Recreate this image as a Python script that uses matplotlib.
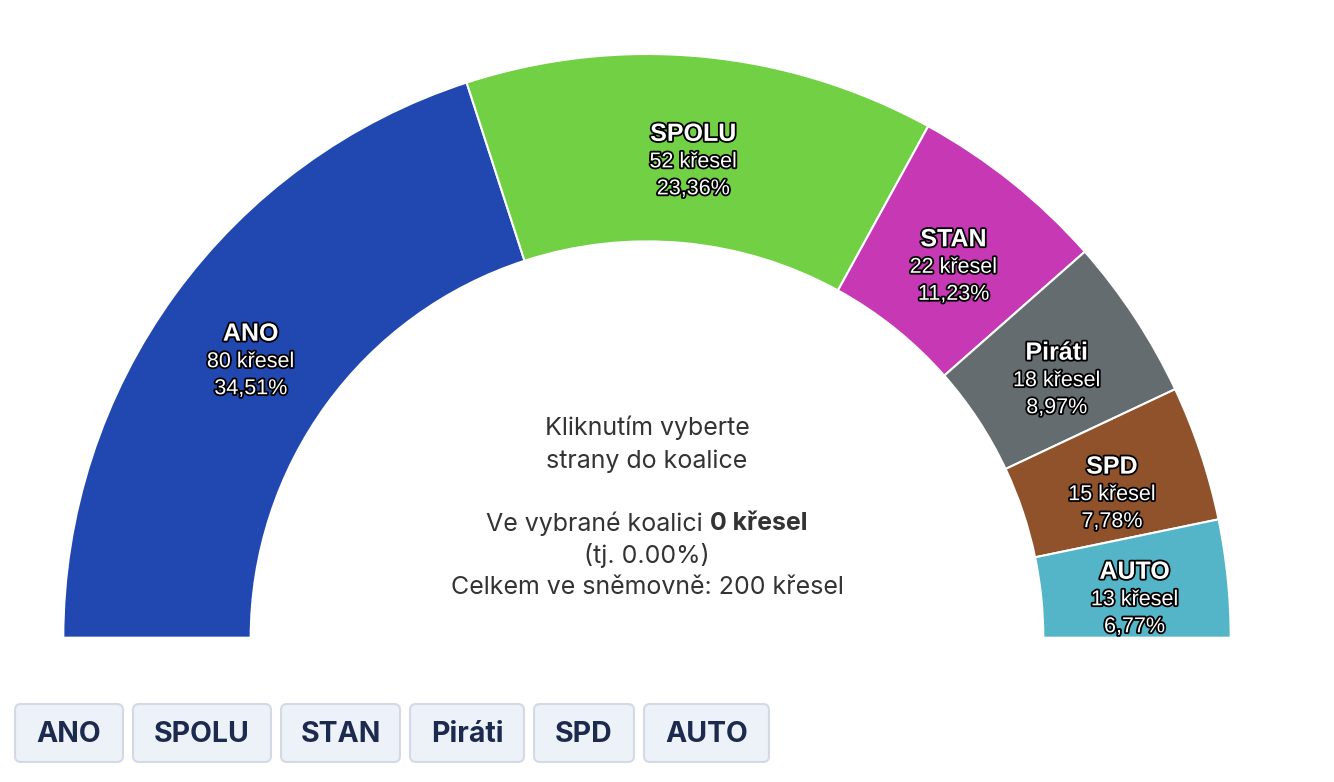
import math
import matplotlib.pyplot as plt
from matplotlib.patches import Wedge, FancyBboxPatch
import matplotlib.patheffects as pe

parties = ["ANO", "SPOLU", "STAN", "Piráti", "SPD", "AUTO"]
seats = [80, 52, 22, 18, 15, 13]
votes = ["34,51%", "23,36%", "11,23%", "8,97%", "7,78%", "6,77%"]
colors = ["#2148B0", "#71D044", "#C638B4", "#656C6F", "#8F522B", "#55B5C8"]
total = sum(seats)

W, H = 1334, 782
fig = plt.figure(figsize=(W / 100, H / 100), dpi=100)

# background axes in pixel coords (y down) for the buttons
bg = fig.add_axes([0, 0, 1, 1])
bg.set_xlim(0, W)
bg.set_ylim(H, 0)
bg.axis("off")

# chart axes: bottom edge is the flat side of the half-donut
cy = 637.7
ax = fig.add_axes([0, (H - cy) / H, 1, cy / H])
ax.set_xlim(0, W)
ax.set_ylim(0, cy)
ax.axis("off")

cx, r_out, r_in = 647, 583.7, 396.3
stroke = [pe.withStroke(linewidth=2.6, foreground="black")]

ang = 180.0
for name, s, v, c in zip(parties, seats, votes, colors):
    span = 180.0 * s / total
    a1, a0 = ang, ang - span
    ax.add_patch(Wedge((cx, 0), r_out, a0, a1, width=r_out - r_in,
                       facecolor=c, edgecolor="white", linewidth=1.5))
    mid = math.radians((a0 + a1) / 2)
    rm = (r_out + r_in) / 2
    lx = cx + rm * math.cos(mid)
    ly = rm * math.sin(mid) - 12
    ax.text(lx, ly + 28, name, ha="center", va="center", color="white",
            fontsize=18, fontweight="bold", family="Liberation Sans",
            path_effects=stroke, clip_on=True)
    ax.text(lx, ly, f"{s} křesel", ha="center", va="center", color="white",
            fontsize=15.5, family="Liberation Sans", path_effects=stroke, clip_on=True)
    ax.text(lx, ly - 27, v, ha="center", va="center", color="white",
            fontsize=15.5, family="Liberation Sans", path_effects=stroke, clip_on=True)
    ang = a0

# centre text
tc = "#333333"
fs = 18
bg.text(647, 428, "Kliknutím vyberte", ha="center", va="center",
        fontsize=fs, color=tc, family="Inter")
bg.text(647, 461, "strany do koalice", ha="center", va="center",
        fontsize=fs, color=tc, family="Inter")
t1 = bg.text(647, 524, "Ve vybrané koalici ", ha="right", va="center",
             fontsize=fs, color=tc, family="Inter")
fig.canvas.draw()
r = fig.canvas.get_renderer()
w1 = t1.get_window_extent(r).width
t2 = bg.text(0, 524, "0 křesel", ha="left", va="center",
             fontsize=fs, color=tc, family="Inter", fontweight="bold")
w2 = t2.get_window_extent(r).width
x0 = 647 - (w1 + w2) / 2
t1.set_position((x0 + w1, 524))
t2.set_position((x0 + w1, 524))
bg.text(647, 556, "(tj. 0.00%)", ha="center", va="center",
        fontsize=fs, color=tc, family="Inter")
bg.text(647, 588, "Celkem ve sněmovně: 200 křesel", ha="center", va="center",
        fontsize=fs, color=tc, family="Inter")

# buttons
btn_x = [15, 133, 281, 410, 534, 644]
btn_w = [108, 138, 119, 114, 100, 125]
for name, bx, bw in zip(parties, btn_x, btn_w):
    bg.add_patch(FancyBboxPatch((bx, 704), bw, 58,
                                boxstyle="round,pad=0,rounding_size=6",
                                facecolor="#EDF1F8", edgecolor="#D3DAE6",
                                linewidth=1.5))
    bg.text(bx + bw / 2, 734, name, ha="center", va="center", fontsize=20.5,
            fontweight="bold", color="#1C2A4F", family="Inter")

fig.savefig("out.png", dpi=100, facecolor="white")
